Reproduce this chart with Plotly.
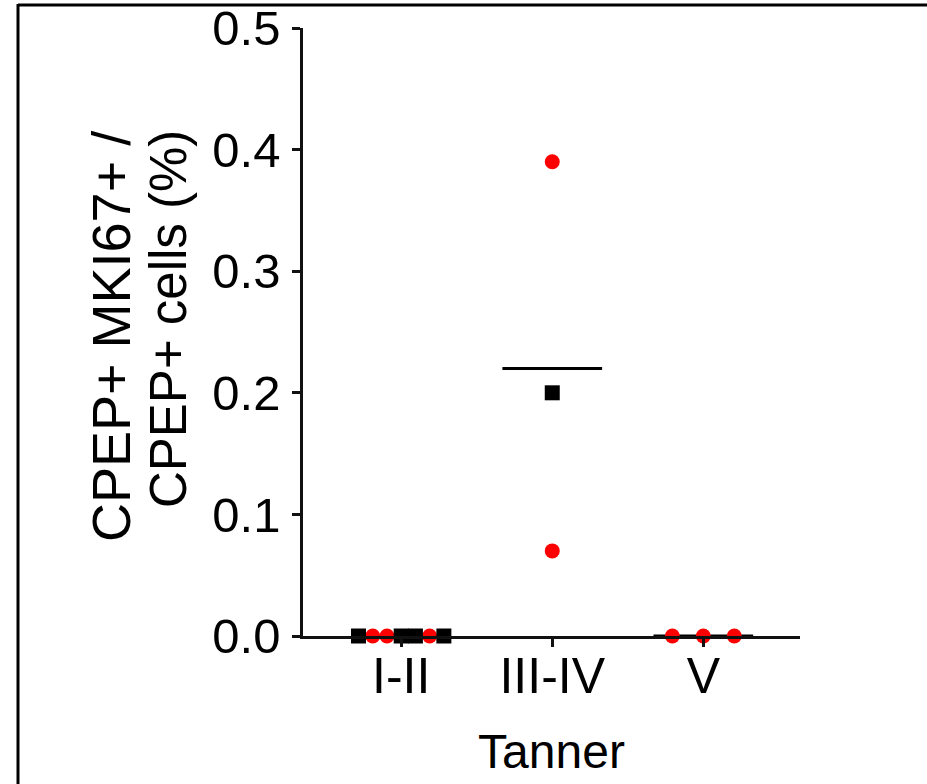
import numpy as np
import plotly.graph_objects as go

# ---- data ----
categories = ["I-II", "III-IV", "V"]
stage = ["I-II"] * 7 + ["III-IV"] * 3 + ["V"] * 3
value = [0, 0, 0, 0, 0, 0, 0,
         0.39, 0.20, 0.07,
         0, 0, 0]
sex = ["M", "F", "F", "M", "M", "F", "M",
       "F", "M", "F",
       "F", "F", "F"]
y_ticks = [0.0, 0.1, 0.2, 0.3, 0.4, 0.5]

# ---- layout helpers: spread tied points horizontally (scatter dot plot) ----
W, H = 927, 784
L, R, T, B = 303, 127, 28, 148
FONT = "Liberation Sans, Arial, Helvetica, sans-serif"

cat_index = {c: i for i, c in enumerate(categories)}
xpos = []
for i, (s, v) in enumerate(zip(stage, value)):
    ties = [j for j, (s2, v2) in enumerate(zip(stage, value)) if s2 == s and v2 == v]
    n = len(ties)
    k = ties.index(i)
    spacing = 0.0 if n == 1 else min(0.205, 0.565 / (n - 1))
    xpos.append(cat_index[s] + (k - (n - 1) / 2) * spacing)

xpos = np.array(xpos)
vals = np.array(value, dtype=float)
stage_arr = np.array(stage)
sex_arr = np.array(sex)

fig = go.Figure()

# mean lines
mx, my = [], []
for c in categories:
    m = vals[stage_arr == c].mean()
    ci = cat_index[c]
    mx += [ci - 0.33, ci + 0.33, None]
    my += [m, m, None]
fig.add_trace(go.Scatter(x=mx, y=my, mode="lines",
                         line=dict(color="black", width=3),
                         hoverinfo="skip", cliponaxis=False))

# female (red circles)
f = sex_arr == "F"
fig.add_trace(go.Scatter(x=xpos[f], y=vals[f], mode="markers",
                         marker=dict(symbol="circle", size=15, color="#ff0000",
                                     line=dict(width=0)),
                         cliponaxis=False))
# male (black squares)
m_ = sex_arr == "M"
fig.add_trace(go.Scatter(x=xpos[m_], y=vals[m_], mode="markers",
                         marker=dict(symbol="square", size=15, color="black",
                                     line=dict(width=0)),
                         cliponaxis=False))

def px_x(p):
    return (p - L) / (W - L - R)

def px_y(p):
    return (H - B - p) / (H - T - B)

fig.update_layout(
    width=W, height=H,
    margin=dict(l=L, r=R, t=T, b=B, pad=0),
    paper_bgcolor="white", plot_bgcolor="white",
    showlegend=False,
    font=dict(family=FONT, color="black", size=50),
    xaxis=dict(
        range=[-0.65, 2.64], automargin=False,
        tickmode="array", tickvals=list(range(len(categories))), ticktext=categories,
        showline=True, linecolor="#111111", linewidth=2.5,
        ticks="outside", ticklen=8, tickwidth=2.5, tickcolor="#111111",
        ticklabelstandoff=-14,
        showgrid=False, zeroline=False,
        tickfont=dict(size=50, family=FONT, color="black"),
        title=dict(text="Tanner", font=dict(size=48, family=FONT, color="black"), standoff=32),
    ),
    yaxis=dict(
        range=[0, 0.5], automargin=False,
        tickmode="array", tickvals=y_ticks, ticktext=[f"{t:.1f}" for t in y_ticks],
        showline=True, linecolor="#111111", linewidth=2.5,
        ticks="outside", ticklen=8, tickwidth=2.5, tickcolor="#111111",
        ticklabelstandoff=2,
        showgrid=False, zeroline=False,
        tickfont=dict(size=49, family=FONT, color="black"),
    ),
    annotations=[
        dict(text="CPEP+ MKI67+ /", textangle=-90, xref="paper", yref="paper",
             x=px_x(111), y=px_y(337), xanchor="center", yanchor="middle",
             showarrow=False, font=dict(size=54, family=FONT, color="black")),
        dict(text="CPEP+ cells (%)", textangle=-90, xref="paper", yref="paper",
             x=px_x(169), y=px_y(319), xanchor="center", yanchor="middle",
             showarrow=False, font=dict(size=51, family=FONT, color="black")),
    ],
    shapes=[
        # frame: top and left edges of the figure panel
        dict(type="line", xref="paper", yref="paper",
             x0=px_x(18), x1=px_x(940), y0=px_y(5), y1=px_y(5),
             line=dict(color="black", width=3)),
        dict(type="line", xref="paper", yref="paper",
             x0=px_x(18), x1=px_x(18), y0=px_y(4), y1=px_y(800),
             line=dict(color="black", width=3)),
    ],
)

fig.write_html("out.html",
               config={"displayModeBar": False},
               post_script="document.body.style.margin='0';"
                           "document.body.style.overflow='hidden';")
